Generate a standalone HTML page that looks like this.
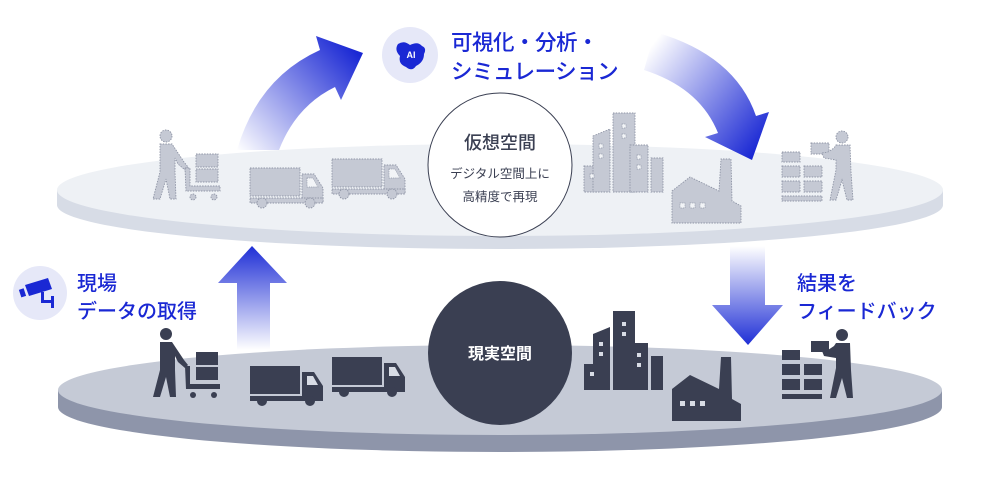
<!DOCTYPE html>
<html><head><meta charset="utf-8"><style>
html,body{margin:0;padding:0;background:#fff;}
svg{display:block;}
text{font-family:"Liberation Sans","Noto Sans CJK JP",sans-serif;}
</style></head><body>
<svg width="1000" height="482" viewBox="0 0 1000 482" xmlns="http://www.w3.org/2000/svg">
<defs>
<linearGradient id="gUp" x1="0" y1="1" x2="0" y2="0"><stop offset="0" stop-color="#fff"/><stop offset="1" stop-color="#1f2fd6"/></linearGradient>
<linearGradient id="gDn" x1="0" y1="0" x2="0" y2="1"><stop offset="0" stop-color="#fff"/><stop offset="1" stop-color="#1f2fd6"/></linearGradient>
<linearGradient id="gL" x1="237" y1="150" x2="350" y2="45" gradientUnits="userSpaceOnUse"><stop offset="0" stop-color="#fff"/><stop offset="1" stop-color="#1a28d4"/></linearGradient>
<linearGradient id="gR" x1="648" y1="50" x2="765" y2="140" gradientUnits="userSpaceOnUse"><stop offset="0" stop-color="#fff"/><stop offset="1" stop-color="#1a28d4"/></linearGradient>
<g id="icons">
  <circle cx="166" cy="334" r="6"/>
  <path d="M160,342 L172,342 L184,360 L188,365 L185,368 L178,362 L175,356 L175,370 L176,397 L170,397 L166,377 L160,397 L153,397 L160,370 Z"/>
  <rect x="196" y="352" width="22" height="13"/>
  <rect x="196" y="367" width="22" height="13"/>
  <path d="M185,366 L190,366 L190,384 L220,384 L220,389 L186,389 Z"/>
  <circle cx="193" cy="395" r="3"/><circle cx="214" cy="395" r="3"/>
  <g transform="translate(250,366)">
    <rect x="0" y="0" width="50" height="28"/>
    <path d="M52,6 L64,6 L73,20 L73,34 L52,34 Z"/>
    <rect x="0" y="30" width="73" height="5"/>
    <circle cx="12" cy="35" r="5"/><circle cx="60" cy="35" r="5"/>
  </g>
  <g transform="translate(332,357)">
    <rect x="0" y="0" width="50" height="28"/>
    <path d="M52,6 L64,6 L73,20 L73,34 L52,34 Z"/>
    <rect x="0" y="30" width="73" height="5"/>
    <circle cx="12" cy="35" r="5"/><circle cx="60" cy="35" r="5"/>
  </g>
  <rect x="584" y="364" width="15" height="26"/>
  <path d="M593,334 L610,327 L610,390 L593,390 Z"/>
  <rect x="613" y="311" width="22" height="79"/>
  <rect x="630" y="343" width="18" height="47"/>
  <rect x="651" y="356" width="12" height="34"/>
  <path d="M672,389 L690,375 L719,389 L721,357 L731,357 L732,399 L741,404 L741,421 L672,421 Z"/>
  <rect x="782" y="350" width="18" height="10"/>
  <rect x="782" y="364" width="18" height="11"/><rect x="804" y="364" width="18" height="11"/>
  <rect x="782" y="379" width="18" height="11"/><rect x="804" y="379" width="18" height="11"/>
  <rect x="782" y="394" width="40" height="5"/>
  <rect x="811" y="341" width="18" height="11"/>
  <circle cx="842" cy="335" r="6"/>
  <path d="M836,343 L850,343 L851,370 L853,398 L847,398 L842,378 L836,398 L830,398 L836,368 L836,358 L824,356 L822,351 L828,350 L834,346 Z"/>
</g>
<g id="wins">
  <path d="M307,376 L313,376 L318,385 L307,385 Z"/>
  <path d="M389,367 L395,367 L400,376 L389,376 Z"/>
  <rect x="590" y="372" width="4" height="4"/>
  <rect x="599" y="342" width="4" height="4"/><rect x="599" y="352" width="4" height="4"/>
  <rect x="622" y="322" width="4" height="4"/><rect x="622" y="332" width="4" height="4"/>
  <rect x="637" y="353" width="4" height="4"/><rect x="637" y="363" width="4" height="4"/>
  <rect x="680" y="401" width="5" height="5"/><rect x="690" y="401" width="5" height="5"/><rect x="700" y="401" width="5" height="5"/>
</g>
</defs>

<ellipse cx="500" cy="407" rx="442" ry="45" fill="#8e95aa"/>
<rect x="58" y="390" width="884" height="17" fill="#8e95aa"/>
<ellipse cx="500" cy="390" rx="442" ry="45" fill="#c5cad6"/>

<path d="M237,350 L237,283 L218,283 L252,246 L287,283 L270,283 L270,350 Z" fill="url(#gUp)"/>

<ellipse cx="500" cy="205" rx="443" ry="44" fill="#d7dce6"/>
<rect x="57" y="190" width="886" height="15" fill="#d7dce6"/>
<ellipse cx="500" cy="190" rx="443" ry="46" fill="#eef1f5"/>

<path d="M730,246 L765,246 L765,305 L783,305 L748,345 L712,305 L730,305 Z" fill="url(#gDn)"/>

<path d="M237,150 Q258,78 320,50 L316,36 L363,53 L341,100 L335,87 Q296,106 279,150 Z" fill="url(#gL)"/>
<path d="M655,32 Q735,55 756,116 L769,112 L752,160 L705,137 L718,133 Q700,88 644,70 Z" fill="url(#gR)"/>

<use href="#icons" fill="#3a3f52"/>
<use href="#wins" fill="#d8dce5"/>
<g transform="translate(0,-198)"><use href="#icons" fill="#c5c9d4" stroke="#8f95a6" stroke-width="0.9" stroke-dasharray="1.5 1.2"/>
<use href="#wins" fill="#f2f4f7" stroke="#8f95a6" stroke-width="0.7" stroke-dasharray="1.2 1"/></g>

<circle cx="500" cy="165" r="72" fill="#fff" stroke="#3a3f52" stroke-width="1"/>
<text x="500" y="149" text-anchor="middle" font-size="18" fill="#3a3f52" font-weight="500">仮想空間</text>
<text x="500" y="178" text-anchor="middle" font-size="12.5" fill="#3a3f52">デジタル空間上に</text>
<text x="500" y="201" text-anchor="middle" font-size="12.5" fill="#3a3f52">高精度で再現</text>

<ellipse cx="500" cy="353" rx="72" ry="72" fill="#3a3f52"/>
<text x="500" y="359" text-anchor="middle" font-size="16" fill="#fff" font-weight="bold">現実空間</text>

<circle cx="410" cy="55" r="28" fill="#e6e8f8"/>
<path d="M398,44 Q404,40 410,45 Q418,41 422,46 Q427,48 424,54 Q424,62 416,66 Q412,72 406,67 Q398,64 400,56 Q394,50 398,44 Z" fill="#1a28d4"/>
<text x="411" y="58" text-anchor="middle" font-size="9" fill="#fff" font-weight="bold">AI</text>
<text x="451" y="50" font-size="21.5" fill="#1a28d4" font-weight="500" letter-spacing="-0.5">可視化・分析・</text>
<text x="451" y="79" font-size="21.5" fill="#1a28d4" font-weight="500" letter-spacing="-0.5">シミュレーション</text>

<circle cx="40" cy="293" r="27" fill="#e6e8f8"/>
<g fill="#1a28d4">
  <path d="M25,285 L48,278 L52,289 L29,296 Z"/>
  <rect x="20" y="289" width="5" height="8" transform="rotate(-18 22 293)"/>
  <path d="M41,292 L44,292 L44,300 L51,300 L51,296 L54,296 L54,308 L51,308 L51,303 L41,303 Z"/>
</g>
<text x="77" y="290" font-size="20" fill="#1a28d4" font-weight="500">現場</text>
<text x="77" y="318" font-size="20" fill="#1a28d4" font-weight="500">データの取得</text>

<text x="797" y="290" font-size="20" fill="#1a28d4" font-weight="500">結果を</text>
<text x="797" y="318" font-size="20" fill="#1a28d4" font-weight="500">フィードバック</text>
</svg>
</body></html>
